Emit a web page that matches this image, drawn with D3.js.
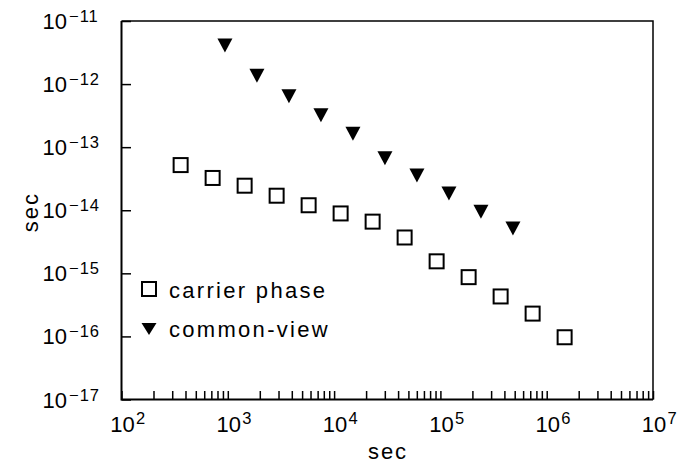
<!DOCTYPE html>
<html lang="en">
<head>
    <meta charset="UTF-8">
    <title>sec vs sec</title>
    <script src="https://d3js.org/d3.v7.min.js"></script>
    <style>
        body { margin: 0; background: #fff; }
        text { font-family: "Liberation Sans", Arial, sans-serif; fill: #000; }
    </style>
</head>
<body>
    <script>
// averaging time (s) and values (s)
var carrierTau = [360, 720, 1440, 2880, 5760, 11520, 23040, 46080, 92160, 184320, 368640, 737280, 1474560];
var carrierVal = [5.2e-14, 3.25e-14, 2.45e-14, 1.7e-14, 1.2e-14, 8.9e-15, 6.6e-15, 3.7e-15, 1.55e-15, 8.7e-16, 4.3e-16, 2.3e-16, 9.7e-17];

var cvTau = [940, 1880, 3760, 7520, 15040, 30080, 60160, 120320, 240640, 481280];
var cvVal = [4.1e-12, 1.36e-12, 6.4e-13, 3.2e-13, 1.63e-13, 6.7e-14, 3.55e-14, 1.85e-14, 9.5e-15, 5.15e-15];

var xExponents = [2, 3, 4, 5, 6, 7];
var yExponents = [-11, -12, -13, -14, -15, -16, -17];
var legendLabels = ['carrier phase', 'common-view'];

var width = 695;
var height = 465;

var svg = d3.select('body')
            .append('svg')
            .attr('width', width)
            .attr('height', height);

var xScale = d3.scaleLog()
               .domain([1e2, 1e7])
               .range([121.5, 653]);

var yScale = d3.scaleLog()
               .domain([1e-17, 1e-11])
               .range([399.5, 21]);

// bottom axis: every 1..9 x decade tick, pointing inward
var xAxis = d3.axisBottom(xScale)
              .tickValues(xScale.ticks())
              .tickSize(-8.5)
              .tickFormat('');

var gx = svg.append('g')
            .attr('transform', 'translate(0,' + yScale.range()[0] + ')')
            .call(xAxis);
gx.select('.domain').remove();
gx.selectAll('line').attr('stroke', '#000').attr('stroke-width', 1.5);

// left axis: decades only
var yAxis = d3.axisLeft(yScale)
              .tickValues(yExponents.map(function(e) { return Math.pow(10, e); }))
              .tickSize(-9.5)
              .tickFormat('');

var gy = svg.append('g')
            .attr('transform', 'translate(' + xScale.range()[0] + ',0)')
            .call(yAxis);
gy.select('.domain').remove();
gy.selectAll('line').attr('stroke', '#000').attr('stroke-width', 1.5);

// frame
var x0 = xScale.range()[0], x1 = xScale.range()[1];
var y0 = yScale.range()[1], y1 = yScale.range()[0];
svg.append('path')
   .attr('d', 'M' + x0 + ',' + y0 + 'H' + x1 + 'V' + y1)
   .attr('fill', 'none')
   .attr('stroke', '#000')
   .attr('stroke-width', 1.5);
svg.append('path')
   .attr('d', 'M' + x0 + ',' + y0 + 'V' + y1 + 'H' + x1)
   .attr('fill', 'none')
   .attr('stroke', '#000')
   .attr('stroke-width', 2);

// x tick labels: "10" centred on the tick, exponent after it
var xl = svg.append('g').selectAll('g')
            .data(xExponents)
            .enter().append('g')
            .attr('transform', function(d) { return 'translate(' + xScale(Math.pow(10, d)) + ',431.5)'; });
xl.append('text')
  .attr('x', 1)
  .attr('text-anchor', 'middle')
  .style('font-size', '22px')
  .text('10');
xl.append('text')
  .attr('x', 14.5)
  .attr('y', -8)
  .style('font-size', '16.5px')
  .text(function(d) { return d; });

// y tick labels
var yl = svg.append('g').selectAll('g')
            .data(yExponents)
            .enter().append('g')
            .attr('transform', function(d) { return 'translate(0,' + (yScale(Math.pow(10, d)) + 8) + ')'; });
yl.append('text')
  .attr('x', 67)
  .attr('text-anchor', 'end')
  .style('font-size', '22px')
  .text('10');
yl.append('text')
  .attr('x', 69)
  .attr('y', -7)
  .style('font-size', '16.5px')
  .style('letter-spacing', '1px')
  .text(function(d) { return '\u2212' + Math.abs(d); });

// axis titles
svg.append('text')
   .attr('x', 388)
   .attr('y', 459)
   .attr('text-anchor', 'middle')
   .style('font-size', '22px')
   .style('letter-spacing', '2px')
   .text('sec');

svg.append('text')
   .attr('transform', 'translate(38,212) rotate(-90)')
   .attr('text-anchor', 'middle')
   .style('font-size', '22px')
   .style('letter-spacing', '2px')
   .text('sec');

// markers
var sq = 14;
function triPath(w, h) {
    return 'M' + (-w / 2) + ',' + (-h / 2) + 'L' + (w / 2) + ',' + (-h / 2) + 'L0,' + (h / 2) + 'Z';
}

svg.append('g').selectAll('rect')
   .data(carrierTau)
   .enter().append('rect')
   .attr('x', function(d) { return xScale(d) - sq / 2; })
   .attr('y', function(d, i) { return yScale(carrierVal[i]) - sq / 2; })
   .attr('width', sq)
   .attr('height', sq)
   .attr('fill', 'none')
   .attr('stroke', '#000')
   .attr('stroke-width', 2);

svg.append('g').selectAll('path')
   .data(cvTau)
   .enter().append('path')
   .attr('d', triPath(15, 14))
   .attr('transform', function(d, i) { return 'translate(' + xScale(d) + ',' + yScale(cvVal[i]) + ')'; })
   .attr('fill', '#000');

// legend
var legend = svg.append('g');
legend.append('rect')
      .attr('x', 149 - sq / 2)
      .attr('y', 289 - sq / 2)
      .attr('width', sq)
      .attr('height', sq)
      .attr('fill', 'none')
      .attr('stroke', '#000')
      .attr('stroke-width', 2);
legend.append('path')
      .attr('d', triPath(15, 12))
      .attr('transform', 'translate(149,329)')
      .attr('fill', '#000');
legend.selectAll('text')
      .data(legendLabels)
      .enter().append('text')
      .attr('x', 169)
      .attr('y', function(d, i) { return 298 + i * 38.5; })
      .style('font-size', '22px')
      .style('letter-spacing', '2.3px')
      .text(function(d) { return d; });
    </script>
</body>
</html>
